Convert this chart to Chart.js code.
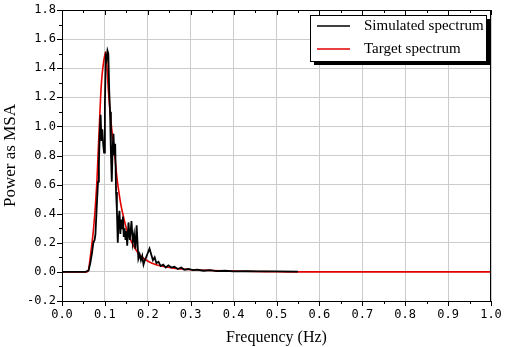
<!DOCTYPE html>
<html>
<head>
<meta charset="utf-8">
<script src="https://cdn.jsdelivr.net/npm/chart.js@4"></script>
<style>
  html, body { margin: 0; padding: 0; background: #fff; }
  #wrap { width: 505px; height: 347px; }
</style>
</head>
<body>
<div id="wrap"><canvas id="spectrumChart"></canvas></div>
<script>
// simulated spectrum (noisy, black)
const simFreq = [0, 0.055, 0.062, 0.066, 0.070, 0.073, 0.076, 0.078, 0.081, 0.084, 0.086, 0.088, 0.090, 0.092, 0.094, 0.096, 0.098,
    0.100, 0.102, 0.104, 0.106, 0.108, 0.110, 0.112, 0.114, 0.116, 0.118, 0.120, 0.122, 0.124, 0.126, 0.128, 0.130, 0.132, 0.134,
    0.136, 0.138, 0.140, 0.142, 0.144, 0.146, 0.148, 0.150, 0.152, 0.155, 0.158, 0.160, 0.162, 0.165, 0.168, 0.171, 0.174, 0.176,
    0.178, 0.181, 0.184, 0.187, 0.190, 0.193, 0.196, 0.200, 0.204, 0.208, 0.212, 0.216, 0.220, 0.225, 0.230, 0.236, 0.242, 0.248,
    0.255, 0.262, 0.270, 0.278, 0.285, 0.295, 0.305, 0.315, 0.330, 0.345, 0.360, 0.380, 0.400, 0.430, 0.460, 0.500, 0.550]
const simPower = [0, 0, 0.01, 0.06, 0.13, 0.20, 0.22, 0.26, 0.45, 0.62, 0.75, 0.95, 1.08, 0.90, 0.98, 0.88, 0.82,
    1.15, 1.48, 1.46, 1.52, 1.50, 1.25, 1.10, 0.82, 0.62, 0.85, 0.95, 0.80, 0.88, 0.55, 0.42, 0.20, 0.36, 0.42,
    0.26, 0.36, 0.30, 0.38, 0.24, 0.30, 0.22, 0.28, 0.18, 0.34, 0.22, 0.28, 0.35, 0.20, 0.26, 0.16, 0.32, 0.20,
    0.09, 0.12, 0.08, 0.11, 0.05, 0.08, 0.10, 0.13, 0.16, 0.12, 0.08, 0.10, 0.06, 0.07, 0.04, 0.05, 0.03, 0.045,
    0.03, 0.035, 0.02, 0.03, 0.015, 0.02, 0.012, 0.016, 0.008, 0.012, 0.006, 0.008, 0.004, 0.005, 0.003, 0.004, 0.002]

// target spectrum (smooth, red)
const targetFreq = [0, 0.055, 0.061, 0.065, 0.070, 0.073, 0.077, 0.081, 0.084, 0.087, 0.090, 0.093, 0.096, 0.099, 0.102,
    0.105, 0.108, 0.112, 0.116, 0.120, 0.124, 0.128, 0.133, 0.138, 0.144, 0.150, 0.157, 0.165, 0.175, 0.185, 0.197,
    0.210, 0.228, 0.25, 0.27, 0.30, 0.35, 0.40, 0.45, 0.50, 0.55, 1.0]
const targetPower = [0, 0, 0.005, 0.08, 0.20, 0.28, 0.42, 0.60, 0.80, 1.00, 1.20, 1.34, 1.42, 1.48, 1.51,
    1.40, 1.25, 1.10, 0.98, 0.88, 0.77, 0.65, 0.54, 0.45, 0.37, 0.30, 0.24, 0.19, 0.14, 0.105, 0.08,
    0.06, 0.042, 0.03, 0.022, 0.015, 0.010, 0.006, 0.003, 0.001, 0, 0]

const seriesLabels = ['Simulated spectrum', 'Target spectrum']
const xTitle = 'Frequency (Hz)'
const yTitle = 'Power as MSA'

const toPoints = (xs, ys) => xs.map((x, i) => ({ x: x, y: ys[i] }))

// minor/major ticks on all sides + border and the shadowed legend box
const framePlugin = {
    id: 'frame',
    afterDraw(chart) {
        const { ctx, chartArea: a, scales } = chart
        const xs = scales.x, ys = scales.y
        ctx.save()
        ctx.strokeStyle = '#000'
        ctx.lineWidth = 1
        ctx.strokeRect(a.left + 0.5, a.top + 0.5, a.right - a.left - 1, a.bottom - a.top)
        ctx.beginPath()
        for (let i = 0; i <= 20; i++) {
            const v = i * 0.05
            const px = Math.round(xs.getPixelForValue(v)) + 0.5
            const len = i % 2 === 0 ? 5 : 3
            ctx.moveTo(px, a.bottom); ctx.lineTo(px, a.bottom + len)
            ctx.moveTo(px, a.top); ctx.lineTo(px, a.top + len)
        }
        for (let i = 0; i <= 20; i++) {
            const v = -0.2 + i * 0.1
            const py = Math.round(ys.getPixelForValue(v)) + 0.5
            const len = i % 2 === 0 ? 5 : 3
            ctx.moveTo(a.left, py); ctx.lineTo(a.left - len, py)
        }
        ctx.stroke()

        // legend
        const bx = a.right - 181, by = a.top + 5, bw = 176, bh = 46
        ctx.fillStyle = '#000'
        ctx.fillRect(bx + 4, by + 4, bw, bh)
        ctx.fillStyle = '#fff'
        ctx.fillRect(bx, by, bw, bh)
        ctx.strokeRect(bx + 0.5, by + 0.5, bw, bh)
        ctx.font = '15px "Liberation Serif", "Times New Roman", serif'
        ctx.textBaseline = 'middle'
        chart.data.datasets.forEach((ds, i) => {
            const ly = by + 11 + i * 23
            ctx.strokeStyle = ds.borderColor
            ctx.lineWidth = 1.5
            ctx.beginPath()
            ctx.moveTo(bx + 7, ly); ctx.lineTo(bx + 40, ly)
            ctx.stroke()
            ctx.fillStyle = '#000'
            ctx.fillText(ds.label, bx + 54, ly)
        })
        ctx.restore()
    }
}

const ctx = document.getElementById('spectrumChart').getContext('2d')

new Chart(ctx, {
    type: 'line',
    data: {
        datasets: [{
            label: seriesLabels[0],
            data: toPoints(simFreq, simPower),
            borderColor: '#000000',
            borderWidth: 1.8,
            pointRadius: 0,
            tension: 0
        }, {
            label: seriesLabels[1],
            data: toPoints(targetFreq, targetPower),
            borderColor: '#e00000',
            borderWidth: 1.6,
            pointRadius: 0,
            tension: 0.2
        }]
    },
    options: {
        responsive: true,
        maintainAspectRatio: false,
        animation: false,
        layout: { padding: { top: 10, right: 14, left: 0, bottom: 0 } },
        scales: {
            x: {
                type: 'linear',
                min: 0,
                max: 1,
                afterFit: (s) => { s.height = 46; s.paddingRight = 0; s.paddingLeft = 0 },
                ticks: {
                    stepSize: 0.1,
                    color: '#000',
                    padding: 7,
                    maxRotation: 0,
                    font: { family: 'DejaVu Sans Mono', size: 12 },
                    callback: (v) => v.toFixed(1)
                },
                grid: { color: '#cccccc', drawTicks: false, tickLength: 6 },
                border: { display: false },
                title: {
                    display: true,
                    text: xTitle,
                    color: '#000',
                    padding: { top: 1, bottom: 0 },
                    font: { family: 'Liberation Serif', size: 16 }
                }
            },
            y: {
                min: -0.2,
                max: 1.8,
                afterFit: (s) => { s.width = 62; s.paddingTop = 0; s.paddingBottom = 0 },
                ticks: {
                    stepSize: 0.2,
                    color: '#000',
                    padding: 6,
                    font: { family: 'DejaVu Sans Mono', size: 12 },
                    callback: (v) => v.toFixed(1)
                },
                grid: { color: '#cccccc', drawTicks: false, tickLength: 6 },
                border: { display: false },
                title: {
                    display: true,
                    text: yTitle,
                    color: '#000',
                    padding: { top: 0, bottom: 1 },
                    font: { family: 'Liberation Serif', size: 17 }
                }
            }
        },
        plugins: {
            legend: { display: false },
            tooltip: { enabled: false }
        }
    },
    plugins: [framePlugin]
})
</script>
</body>
</html>
